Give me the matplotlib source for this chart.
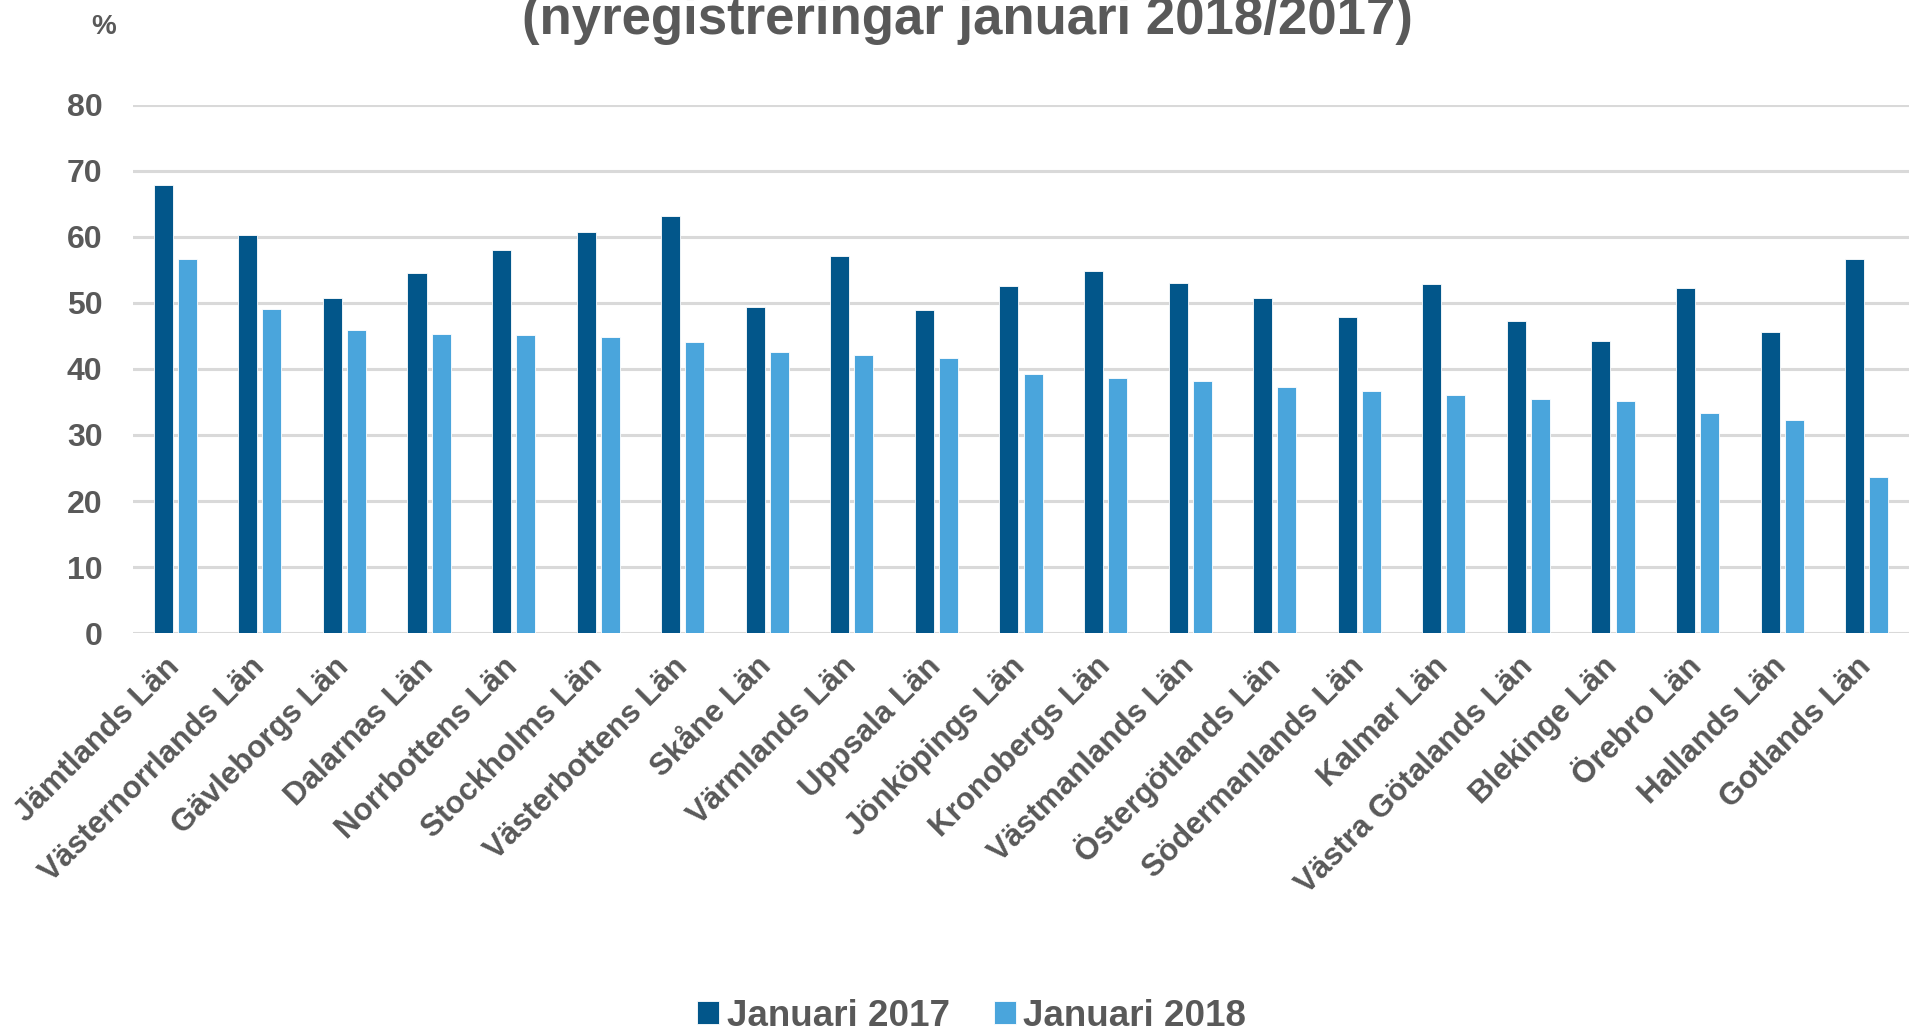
import matplotlib.pyplot as plt
import numpy as np

plt.rcParams['font.family'] = ['Liberation Sans', 'DejaVu Sans']
plt.rcParams['font.weight'] = 'bold'

GREY = '#595959'

LAN = ["Jämtlands Län", "Västernorrlands Län", "Gävleborgs Län", "Dalarnas Län",
       "Norrbottens Län", "Stockholms Län", "Västerbottens Län", "Skåne Län",
       "Värmlands Län", "Uppsala Län", "Jönköpings Län", "Kronobergs Län",
       "Västmanlands Län", "Östergötlands Län", "Södermanlands Län", "Kalmar Län",
       "Västra Götalands Län", "Blekinge Län", "Örebro Län", "Hallands Län",
       "Gotlands Län"]
jan_2017 = [67.8, 60.3, 50.7, 54.5, 58.0, 60.7, 63.2, 49.4, 57.1, 48.9, 52.5,
            54.8, 53.1, 50.8, 47.9, 52.8, 47.2, 44.2, 52.2, 45.6, 56.7]
jan_2018 = [56.6, 49.1, 45.9, 45.3, 45.1, 44.8, 44.1, 42.6, 42.1, 41.7, 39.2,
            38.6, 38.2, 37.2, 36.6, 36.0, 35.4, 35.2, 33.4, 32.2, 23.7]

fig = plt.figure(figsize=(19.09, 10.33), dpi=100)
ax = fig.add_axes([0.0697, 0.3872, 0.9303, 0.5112])

x = np.arange(len(LAN))
w = 0.225
gap = 0.06
ax.bar(x - (w + gap) / 2, jan_2017, w, color='#02568A', edgecolor='white',
       linewidth=0.6, label='Januari 2017', zorder=3)
ax.bar(x + (w + gap) / 2, jan_2018, w, color='#4AA5DC', edgecolor='white',
       linewidth=0.6, label='Januari 2018', zorder=3)

ax.set_xlim(-0.5, len(LAN) - 0.5)
ax.set_ylim(0, 80)
ax.set_yticks(range(0, 81, 10))
ax.yaxis.grid(True, color='#D9D9D9', linewidth=2.2, zorder=0)
for s in ax.spines.values():
    s.set_visible(False)
ax.tick_params(axis='both', length=0, colors=GREY)
ax.tick_params(axis='y', pad=22, labelsize=23)
ax.set_xticks(x)
ax.set_xticklabels(LAN, rotation=45, ha='right', va='center',
                   rotation_mode='anchor', fontsize=22.5, color=GREY)
ax.tick_params(axis='x', pad=21)

# title line is partly cut at the top, as in the original
fig.text(0.507, 1 - 34 / 1033, '(nyregistreringar januari 2018/2017)',
         ha='center', va='baseline', fontsize=38, color=GREY)
fig.text(0.0545, 1 - 27 / 1033, '%', ha='center', va='center',
         fontsize=20, color=GREY)

fig.legend(loc='center', bbox_to_anchor=(0.509, 1 - 1016 / 1033), ncol=2,
           frameon=False, fontsize=26.5, labelcolor=GREY, handlelength=0.6,
           handleheight=0.6, handletextpad=0.2, columnspacing=1.2)

fig.savefig('out.png', dpi=100)
